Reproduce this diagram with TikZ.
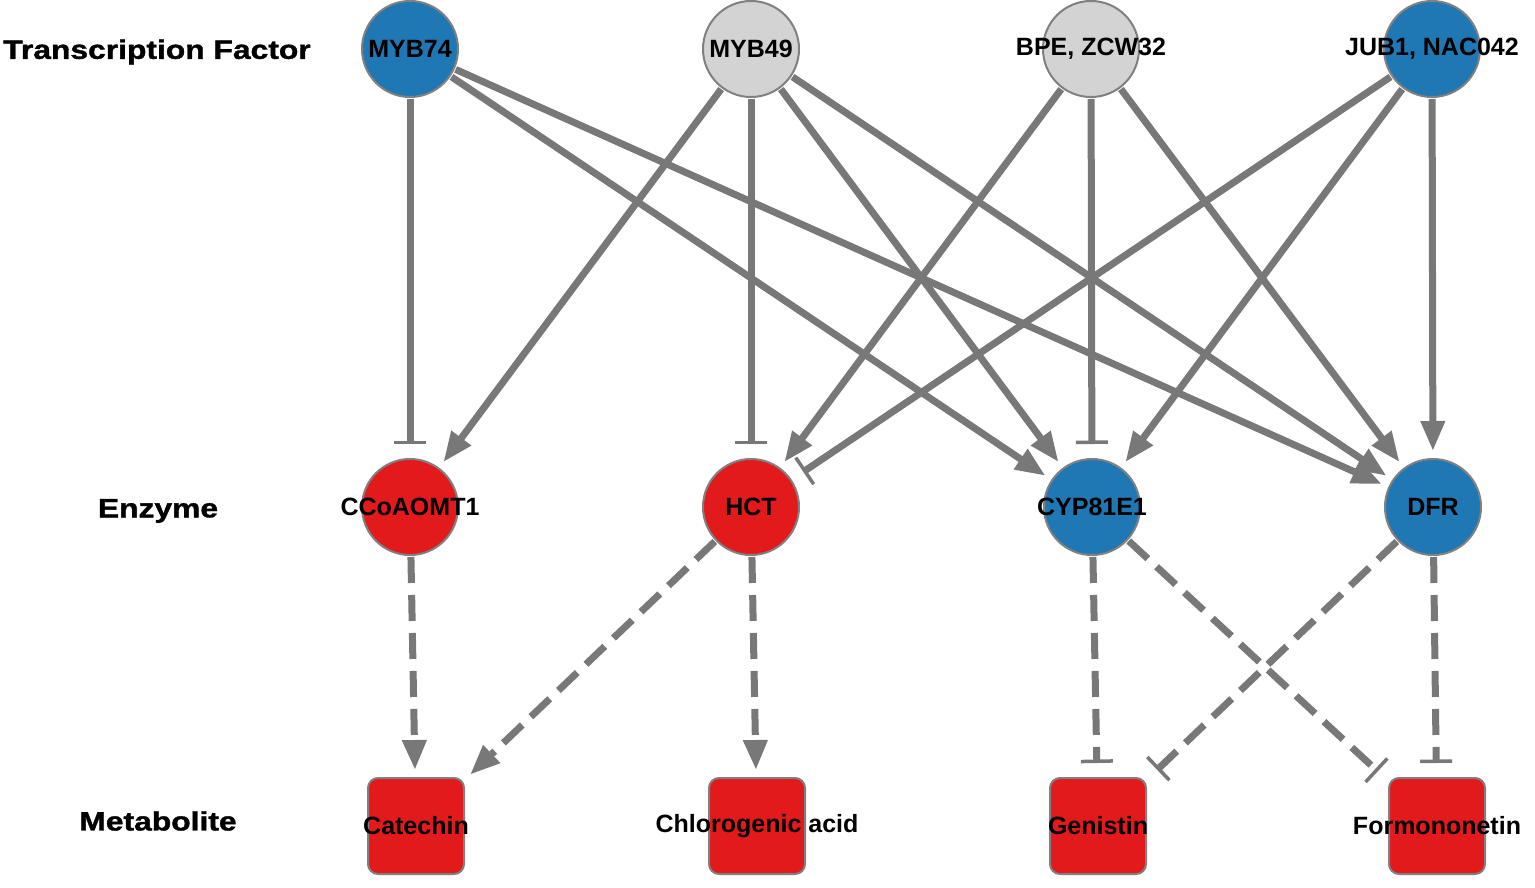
\documentclass[tikz,border=0pt]{standalone}
\usepackage{fontspec}
\setmainfont{Liberation Sans}
\newfontfamily\heavyfont[FakeBold=1.2]{Liberation Sans Bold}
\usetikzlibrary{arrows.meta}
\pgfdeclarelayer{bg}
\pgfsetlayers{bg,main}
\definecolor{nblue}{RGB}{31,119,180}
\definecolor{nred}{RGB}{227,26,28}
\definecolor{ngray}{RGB}{211,211,211}
\definecolor{edgec}{RGB}{120,120,120}
\definecolor{bordc}{RGB}{128,128,128}
\tikzset{
 lbl/.style={font=\fontsize{25}{25}\selectfont\bfseries, inner sep=0pt, text=black},
 gnode/.style={circle, minimum size=96pt, inner sep=0pt, draw=bordc, line width=2pt},
 met/.style={rectangle, rounded corners=10pt, minimum size=96pt, inner sep=0pt, draw=bordc, line width=2pt, fill=nred},
 rowlbl/.style={font=\fontsize{26.5}{26.5}\heavyfont, inner sep=0pt},
 act/.style={draw=edgec, line width=7pt, -{Triangle[length=30pt,width=23pt]}, shorten >=7pt, shorten <=1pt},
 inh/.style={draw=edgec, line width=7pt, -{Bar[width=32pt,line width=3.5pt]}, shorten >=14pt, shorten <=1pt},
 dsh/.style={dash pattern=on 26pt off 12pt},
}
\begin{document}
\begin{tikzpicture}[x=1pt,y=-1pt]
\begin{pgfonlayer}{bg}
\fill[white] (0,0) rectangle (1535,888);
\end{pgfonlayer}
\useasboundingbox (0,0) rectangle (1535,888);
% row labels
\node[rowlbl] (rtf) at (157,52) {\scalebox{1.2}[1]{Transcription Factor}};
\node[rowlbl] (renz) at (158,511) {\scalebox{1.2}[1]{Enzyme}};
\node[rowlbl] (rmet) at (158,821) {\scalebox{1.2}[1]{Metabolite}};
% transcription factors
\node[gnode, fill=nblue, label={[lbl]center:MYB74}] (myb74) at (410,49) {};
\node[gnode, fill=ngray, label={[lbl]center:MYB49}] (myb49) at (751,49) {};
\node[gnode, fill=ngray, label={[lbl]center:BPE, ZCW32}] (bpe) at (1091,49) {};
\node[gnode, fill=nblue, label={[lbl]center:JUB1, NAC042}] (jub) at (1432,49) {};
% enzymes
\node[gnode, fill=nred, label={[lbl]center:CCoAOMT1}] (ccoa) at (410,507) {};
\node[gnode, fill=nred, label={[lbl]center:HCT}] (hct) at (751,507) {};
\node[gnode, fill=nblue, label={[lbl]center:CYP81E1}] (cyp) at (1092,507) {};
\node[gnode, fill=nblue, label={[lbl]center:DFR}] (dfr) at (1433,507) {};
% metabolites
\node[met, label={[lbl]center:Catechin}] (cat) at (416,826) {};
\node[met, label={[lbl]center:Chlorogenic acid}] (chl) at (757,826) {};
\node[met, label={[lbl]center:Genistin}] (gen) at (1098,826) {};
\node[met, label={[lbl]center:Formononetin}] (form) at (1437,826) {};
\begin{pgfonlayer}{bg}
% TF -> enzyme
\draw[inh] (myb74) -- (ccoa);
\draw[act] (myb74) -- (cyp);
\draw[act] (myb74) -- (dfr);
\draw[act] (myb49) -- (ccoa);
\draw[inh] (myb49) -- (hct);
\draw[act] (myb49) -- (cyp);
\draw[act] (myb49) -- (dfr);
\draw[act] (bpe) -- (hct);
\draw[inh] (bpe) -- (cyp);
\draw[act] (bpe) -- (dfr);
\draw[inh] (jub) -- (hct);
\draw[act] (jub) -- (cyp);
\draw[act] (jub) -- (dfr);
% enzyme -> metabolite
\draw[act, dsh] (ccoa) -- (cat);
\draw[act, dsh] (hct) -- (cat);
\draw[act, dsh] (hct) -- (chl);
\draw[inh, dsh] (cyp) -- (gen);
\draw[inh, dsh] (cyp) -- (form);
\draw[inh, dsh] (dfr) -- (gen);
\draw[inh, dsh] (dfr) -- (form);
\end{pgfonlayer}
\end{tikzpicture}
\end{document}
